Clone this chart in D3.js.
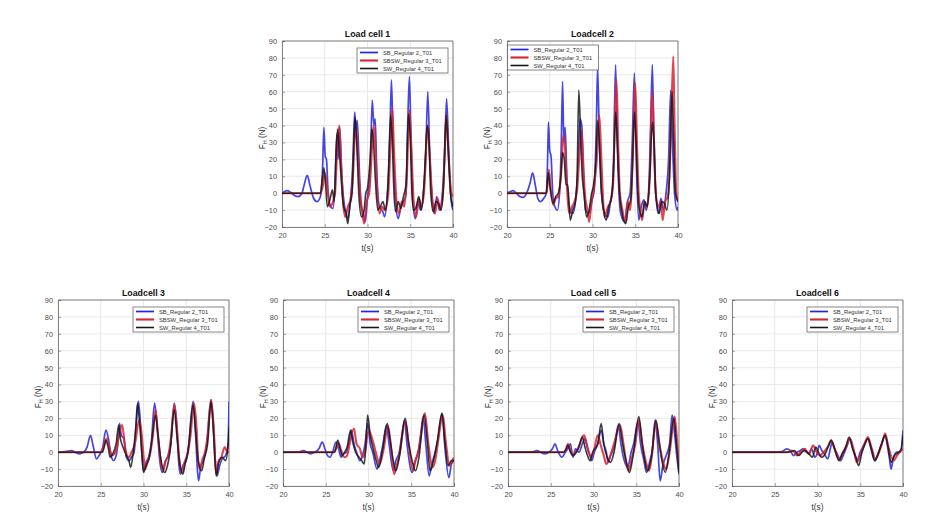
<!DOCTYPE html>
<html><head><meta charset="utf-8">
<script src="https://cdn.jsdelivr.net/npm/d3@7"></script>
<style>body{margin:0;background:#fff;}svg{display:block;font-family:"Liberation Sans",Arial,sans-serif;}</style>
</head><body>
<svg id="c" width="933" height="520"></svg>
<script>
// ---- data ----
const seriesNames = ["SB_Regular 2_T01", "SBSW_Regular 3_T01", "SW_Regular 4_T01"];
const panelTitles = ["Load cell 1", "Loadcell 2", "Loadcell 3", "Loadcell 4", "Load cell 5", "Loadcell 6"];
const xTicks = [20, 25, 30, 35, 40];
const yTicks = [-20, -10, 0, 10, 20, 30, 40, 50, 60, 70, 80, 90];

const lc1_SB = [[20,0],[20.3,1],[20.6,1.5],[21,0.5],[21.5,-1.5],[21.9,-2],[22.3,-0.5],[22.6,5],[22.95,10.5],[23.3,4],[23.7,-3],[24.1,-5],[24.5,-2],[24.75,15],[24.9,39],[25.05,22],[25.2,20],[25.4,0],[25.7,-8],[25.95,-9],[26.2,5],[26.4,35],[26.55,20],[26.75,39],[26.95,15],[27.2,-3],[27.5,-12],[27.7,-15],[28,-5],[28.3,20],[28.5,48],[28.65,38],[28.8,43],[29,20],[29.2,-5],[29.5,-12],[29.75,-17],[30.0,-2],[30.3,10],[30.55,55],[30.75,40],[30.9,44],[31.1,10],[31.4,-8],[31.8,-11],[32.0,-14],[32.3,-2],[32.6,30],[32.8,67],[33.0,30],[33.3,-6],[33.6,-15],[33.9,-8],[34.2,-5],[34.5,-1],[34.7,40],[34.9,69],[35.1,30],[35.3,-5],[35.6,-15],[35.9,-5],[36.2,-10],[36.5,-2],[36.8,20],[37.05,60],[37.3,20],[37.6,-5],[37.8,-12],[38.1,-2],[38.4,-10],[38.7,-3],[39.0,20],[39.25,56],[39.5,25],[39.8,-5],[40,-10]];
const lc1_SBSW = [[20,0],[24.5,0],[24.8,5],[25.0,12],[25.3,3],[25.6,-8],[25.9,-6],[26.2,0],[26.5,30],[26.7,40],[26.9,20],[27.1,-2],[27.4,-14],[27.7,-8],[28.0,-4],[28.3,10],[28.6,40],[28.8,30],[29.0,10],[29.3,-8],[29.6,-18],[29.9,-5],[30.2,0],[30.5,25],[30.7,40],[30.9,30],[31.1,5],[31.4,-12],[31.7,-8],[32.0,-10],[32.4,-2],[32.7,30],[32.9,50],[33.1,25],[33.4,-5],[33.7,-12],[34.0,-5],[34.3,-8],[34.6,10],[34.9,49],[35.1,30],[35.4,-5],[35.7,-14],[36.0,-3],[36.3,-8],[36.6,0],[36.8,20],[37.0,40],[37.3,20],[37.6,-5],[37.9,-12],[38.2,-3],[38.5,-10],[38.8,-2],[39.0,20],[39.2,46],[39.5,20],[39.8,0],[40,-2]];
const lc1_SW = [[20,0],[24.5,0],[24.7,8],[24.9,15],[25.1,5],[25.3,-8],[25.6,-4],[25.9,2],[26.1,-5],[26.3,20],[26.5,38],[26.7,25],[26.9,10],[27.2,-8],[27.5,-12],[27.7,-18],[27.9,-8],[28.2,0],[28.4,30],[28.55,45],[28.75,28],[29.0,-2],[29.3,-14],[29.6,-10],[29.8,0],[30.0,3],[30.3,20],[30.5,38],[30.7,30],[30.9,10],[31.2,-10],[31.5,-8],[31.8,-5],[32.1,-10],[32.4,5],[32.7,46],[32.9,30],[33.1,0],[33.3,-11],[33.6,-5],[33.9,-9],[34.2,-2],[34.5,5],[34.8,47],[35.0,32],[35.2,0],[35.4,-10],[35.7,-8],[36.0,-2],[36.3,-10],[36.6,5],[36.8,25],[37.0,40],[37.2,30],[37.4,0],[37.7,-11],[38.0,-5],[38.3,-6],[38.6,-10],[38.9,5],[39.2,46],[39.4,30],[39.7,0],[40,-8]];

const lc2_SB = [[20,0],[20.4,1],[20.7,1.5],[21.1,0],[21.5,-2],[21.9,-2.5],[22.3,0],[22.7,6],[23.0,12],[23.3,5],[23.6,-3],[23.9,-5],[24.3,-3],[24.6,0],[24.75,20],[24.85,42],[25.0,25],[25.15,22],[25.35,0],[25.6,-8],[25.9,-10],[26.2,5],[26.35,30],[26.5,66],[26.65,30],[26.8,39],[27.0,10],[27.3,-8],[27.7,-12],[28.0,-5],[28.3,15],[28.55,44],[28.75,40],[28.95,10],[29.2,-10],[29.6,-12],[29.9,-5],[30.2,2],[30.45,40],[30.6,75],[30.8,30],[31.0,5],[31.3,-10],[31.8,-14],[32.1,-5],[32.4,5],[32.7,76],[32.9,30],[33.1,0],[33.3,-12],[33.8,-17],[34.1,-5],[34.4,0],[34.65,30],[34.9,71],[35.1,25],[35.4,-16],[35.7,-8],[36.0,-4],[36.3,-10],[36.6,5],[36.8,40],[37.0,76],[37.2,25],[37.4,0],[37.7,-12],[38.0,-3],[38.3,-10],[38.6,0],[38.9,20],[39.15,61],[39.35,30],[39.6,0],[39.9,-10],[40,-8]];
const lc2_SBSW = [[20,0],[24.6,0],[24.75,5],[24.9,14],[25.1,3],[25.4,-7],[25.7,-3],[26.0,-2],[26.3,10],[26.6,35],[26.8,25],[27.0,5],[27.3,-12],[27.6,-8],[27.9,-5],[28.2,2],[28.5,25],[28.7,37],[28.9,20],[29.1,0],[29.4,-10],[29.6,-17],[29.9,-5],[30.2,4],[30.5,20],[30.8,46],[31.0,25],[31.2,0],[31.4,-14],[31.8,-8],[32.1,-5],[32.4,5],[32.6,40],[32.8,67],[33.0,30],[33.2,0],[33.5,-10],[33.8,-17],[34.1,-5],[34.4,-10],[34.7,20],[35.0,65],[35.2,30],[35.4,0],[35.6,-10],[35.8,-16],[36.1,-5],[36.4,-8],[36.7,10],[37.0,60],[37.2,30],[37.4,0],[37.7,-8],[38.0,-5],[38.2,-16],[38.5,-5],[38.8,-2],[39.0,10],[39.2,40],[39.45,81],[39.6,40],[39.8,0],[40,-5]];
const lc2_SW = [[20,0],[24.6,0],[24.7,6],[24.85,12],[25.0,5],[25.4,-6],[25.7,-2],[26.0,0],[26.3,10],[26.5,24],[26.7,20],[26.9,5],[27.1,5],[27.4,-16],[27.7,-10],[28.0,-5],[28.2,10],[28.4,61],[28.6,35],[28.8,10],[29.0,0],[29.3,-14],[29.6,-10],[29.9,0],[30.1,4],[30.4,20],[30.6,43],[30.8,30],[31.0,5],[31.3,-10],[31.6,-16],[31.9,-8],[32.2,-3],[32.5,20],[32.7,48],[32.9,30],[33.1,5],[33.4,-10],[33.9,-18],[34.2,-8],[34.5,-3],[34.7,20],[34.9,48],[35.1,30],[35.3,0],[35.5,-10],[35.8,-14],[36.1,-5],[36.4,-8],[36.7,10],[37.0,42],[37.2,30],[37.4,0],[37.8,-12],[38.1,-5],[38.4,-6],[38.7,-10],[39.0,10],[39.3,60],[39.5,30],[39.7,0],[40,-5]];

const lc3_SB = [[20,0],[21.0,0.5],[21.6,1],[22.0,0],[22.5,-1],[23.0,0],[23.4,3],[23.8,10],[24.1,4],[24.5,-4],[24.8,-2],[25.2,2],[25.6,13],[25.9,8],[26.2,-2],[26.5,-5],[26.8,-2],[27.0,5],[27.2,17],[27.4,10],[27.7,8],[28.0,-3],[28.3,-5],[28.6,-3],[28.9,0],[29.2,20],[29.4,30],[29.6,20],[29.8,0],[30.0,-11],[30.3,-6],[30.6,-3],[30.9,5],[31.3,29],[31.6,15],[31.9,-5],[32.2,-12],[32.5,-6],[32.8,-3],[33.2,5],[33.6,29],[33.9,15],[34.1,-5],[34.3,-13],[34.6,-8],[35.0,-5],[35.3,5],[35.8,30],[36.1,10],[36.3,-10],[36.45,-17],[36.7,-8],[37.0,-5],[37.4,5],[37.9,31],[38.2,15],[38.4,-5],[38.6,-14],[38.9,-8],[39.2,-4],[39.6,-2],[39.9,5],[40,30]];
const lc3_SBSW = [[20,0],[25.0,0],[25.3,3],[25.7,8],[26.0,3],[26.3,-2],[26.6,-1],[26.9,3],[27.2,12],[27.5,16],[27.8,5],[28.0,-1],[28.3,-3],[28.6,0],[29.0,5],[29.5,19],[29.8,10],[30.0,-2],[30.2,-10],[30.5,-5],[30.8,0],[31.1,10],[31.4,25],[31.7,10],[32.0,-5],[32.3,-11],[32.6,-5],[32.9,-2],[33.2,8],[33.6,28],[33.9,15],[34.2,-5],[34.5,-12],[34.8,-6],[35.1,-2],[35.5,10],[35.9,29],[36.2,15],[36.4,-5],[36.6,-10],[36.9,-4],[37.2,0],[37.5,10],[37.9,31],[38.2,15],[38.5,-13],[38.8,-5],[39.1,-3],[39.5,3],[39.8,0],[40,0]];
const lc3_SW = [[20,0],[25.2,0],[25.4,3],[25.6,7],[25.9,2],[26.1,-3],[26.4,-1],[26.8,5],[27.1,16],[27.3,8],[27.6,3],[28.0,-2],[28.3,-5],[28.5,-9],[28.8,0],[29.1,15],[29.3,29],[29.5,20],[29.8,0],[30.0,-12],[30.3,-8],[30.7,-3],[31.0,8],[31.4,22],[31.7,10],[32.0,-3],[32.5,-12],[32.8,-8],[33.1,0],[33.6,25],[33.9,10],[34.2,-5],[34.6,-13],[34.9,-6],[35.2,0],[35.8,28],[36.1,12],[36.4,-5],[36.8,-11],[37.1,-4],[37.5,5],[37.9,30],[38.2,10],[38.5,-14],[38.8,-6],[39.2,-3],[39.6,-5],[39.9,5],[40,15]];

const lc4_SB = [[20,0],[21.8,0],[22.4,1],[22.8,0],[23.2,-1],[23.7,0],[24.2,2],[24.6,6],[24.9,2],[25.2,-2],[25.5,-3],[25.8,0],[26.2,6],[26.5,2],[26.8,-3],[27.1,-1],[27.4,0],[27.7,5],[28.0,13],[28.3,5],[28.6,0],[29.0,-5],[29.3,-2],[29.6,5],[29.9,17],[30.2,5],[30.5,0],[31.0,-10],[31.3,-5],[31.7,5],[32.1,16],[32.4,5],[32.9,-11],[33.2,-5],[33.6,0],[33.9,10],[34.2,19],[34.5,5],[35.1,-12],[35.4,-6],[35.8,0],[36.1,10],[36.4,21],[36.7,5],[37.1,-14],[37.4,-7],[37.8,0],[38.2,10],[38.6,23],[38.9,5],[39.4,-15],[39.7,-7],[40,-5]];
const lc4_SBSW = [[20,0],[26.0,0],[26.3,3],[26.5,5],[26.8,1],[27.2,-3],[27.5,-2],[27.8,5],[28.3,14],[28.6,5],[29.0,2],[29.3,-3],[29.6,0],[30.0,13],[30.3,10],[30.6,5],[31.0,-3],[31.3,-7],[31.7,0],[32.3,15],[32.6,5],[33.0,-13],[33.3,-8],[33.6,-2],[34.3,18],[34.7,5],[35.2,-11],[35.5,-5],[35.9,2],[36.6,23],[37.0,5],[37.5,-9],[37.8,-5],[38.1,5],[38.7,22],[39.0,8],[39.5,-8],[39.8,-5],[40,-3]];
const lc4_SW = [[20,0],[26.0,0],[26.2,3],[26.4,7],[26.7,2],[26.9,-2],[27.2,0],[27.5,3],[27.9,13],[28.2,5],[28.5,0],[28.9,-3],[29.2,-5],[29.5,-7],[29.7,5],[29.9,22],[30.2,10],[30.5,3],[30.9,-5],[31.2,-9],[31.6,0],[32.2,17],[32.5,8],[32.9,-5],[33.2,-11],[33.6,-3],[34.3,20],[34.7,5],[35.1,-5],[35.5,-11],[35.9,-3],[36.5,22],[36.9,5],[37.2,-11],[37.6,-5],[38.0,5],[38.6,23],[38.9,8],[39.3,-8],[39.7,-5],[40,-5]];

const lc5_SB = [[20,0],[22.8,0],[23.4,1],[23.8,0],[24.3,-1],[24.8,0],[25.2,2],[25.5,5],[25.8,1],[26.3,-3],[26.7,0],[27.0,2],[27.3,5],[27.6,-3],[27.9,2],[28.3,0],[28.7,5],[29.0,8],[29.3,2],[29.6,-2],[29.8,-5],[30.1,0],[30.5,5],[30.9,13],[31.2,5],[31.5,0],[31.7,-6],[32.0,-2],[32.5,5],[32.9,16],[33.2,5],[33.6,-5],[34.0,-9],[34.4,0],[34.7,5],[35.2,18],[35.5,5],[35.9,-5],[36.2,-12],[36.6,-5],[36.9,2],[37.2,19],[37.5,5],[37.8,-17],[38.1,-8],[38.5,-2],[38.9,5],[39.2,22],[39.5,10],[39.8,-5],[40,-13]];
const lc5_SBSW = [[20,0],[26.5,0],[26.8,2],[27.0,5],[27.3,1],[27.6,-2],[27.9,0],[28.3,3],[28.6,8],[28.9,10],[29.2,5],[29.7,-3],[30.0,0],[30.5,10],[30.8,5],[31.2,-2],[31.5,-7],[31.9,-3],[32.4,5],[33.1,16],[33.5,5],[33.8,-5],[34.1,-11],[34.5,-3],[34.9,5],[35.3,19],[35.7,5],[36.1,-5],[36.5,-11],[36.8,-3],[37.3,18],[37.7,5],[38.1,-5],[38.5,-10],[38.9,0],[39.5,21],[39.8,5],[40,-8]];
const lc5_SW = [[20,0],[26.5,0],[26.8,2],[27.0,4],[27.3,0],[27.6,-2],[28.0,0],[28.4,5],[28.7,9],[29.0,3],[29.3,-2],[29.6,-5],[29.9,0],[30.5,5],[30.9,17],[31.2,5],[31.6,-3],[32.0,-6],[32.4,0],[33.0,17],[33.4,5],[33.8,-5],[34.2,-12],[34.6,-3],[35.3,21],[35.7,5],[36.0,-5],[36.3,-11],[36.8,-2],[37.3,19],[37.7,5],[38.0,-5],[38.4,-12],[38.8,-2],[39.4,20],[39.7,5],[40,-12]];

const lc6_SB = [[20,0],[25.5,0],[25.9,0.5],[26.4,2],[26.8,1],[27.2,-2],[27.6,0],[28.0,1],[28.3,2],[28.7,0],[29.0,-1],[29.3,2],[29.7,-3],[30.0,0],[30.2,4],[30.5,1],[30.8,-1],[31.2,-4],[31.5,2],[31.7,6],[32.0,2],[32.3,-1],[32.7,-5],[33.0,-2],[33.4,3],[33.8,8],[34.1,3],[34.4,-2],[34.6,-5],[35.0,0],[35.4,4],[35.9,8],[36.2,3],[36.7,-5],[37.0,-2],[37.5,5],[37.9,10],[38.2,3],[38.45,-5],[38.6,-10],[38.9,-3],[39.3,0],[39.7,0],[40,13]];
const lc6_SBSW = [[20,0],[26.5,0],[27.0,1],[27.3,0],[27.6,-2],[28.0,0],[28.5,2],[28.8,0],[29.0,-1],[29.5,4],[29.8,1],[30.3,-2],[30.7,0],[31.2,3],[31.6,7],[32.0,2],[32.5,-4],[32.9,-1],[33.4,4],[33.8,8],[34.2,2],[34.6,-6],[35.0,-2],[35.5,5],[35.9,9],[36.3,3],[36.8,-4],[37.2,0],[37.6,6],[37.9,11],[38.3,3],[38.9,-5],[39.3,-2],[39.8,1],[40,2]];
const lc6_SW = [[20,0],[26.5,0],[27.0,0.5],[27.3,1],[27.8,-2],[28.2,0],[28.5,1],[29.0,-1],[29.4,-3],[29.8,3],[30.1,0],[30.5,-3],[31.0,0],[31.3,4],[31.6,7],[32.0,2],[32.5,-5],[32.9,-1],[33.3,3],[33.7,9],[34.1,2],[34.5,-3],[34.8,-8],[35.2,0],[35.5,4],[35.9,8],[36.3,2],[36.7,-5],[37.1,-1],[37.5,5],[37.9,10],[38.3,2],[38.6,-6],[39.0,-2],[39.5,0],[39.8,2],[40,10]];

const panelData = [
  [lc1_SB, lc1_SBSW, lc1_SW],
  [lc2_SB, lc2_SBSW, lc2_SW],
  [lc3_SB, lc3_SBSW, lc3_SW],
  [lc4_SB, lc4_SBSW, lc4_SW],
  [lc5_SB, lc5_SBSW, lc5_SW],
  [lc6_SB, lc6_SBSW, lc6_SW]
];

// ---- layout / style ----
const colors = ["#2424e0", "#dc2430", "#181818"];
const widths = [1.7, 2.1, 1.6];
const PW = 171, PH = 186;
const layout = [
  {x: 282, y: 41, legend: "right"},
  {x: 507, y: 41, legend: "left"},
  {x: 58,  y: 300, legend: "right"},
  {x: 283, y: 300, legend: "right"},
  {x: 508, y: 300, legend: "right"},
  {x: 732, y: 300, legend: "right"}
];

const svg = d3.select("#c");
const tickColor = "#4d4d4d";

layout.forEach((L, i) => {
  const g = svg.append("g").attr("transform", `translate(${L.x},${L.y})`);
  const x = d3.scaleLinear().domain([20, 40]).range([0, PW]);
  const y = d3.scaleLinear().domain([-20, 90]).range([PH, 0]);

  // grid
  g.append("g").selectAll("line").data(xTicks).join("line")
    .attr("x1", d => x(d)).attr("x2", d => x(d)).attr("y1", 0).attr("y2", PH)
    .attr("stroke", "#e3e3e3").attr("stroke-width", 0.8);
  g.append("g").selectAll("line").data(yTicks).join("line")
    .attr("y1", d => y(d)).attr("y2", d => y(d)).attr("x1", 0).attr("x2", PW)
    .attr("stroke", "#e3e3e3").attr("stroke-width", 0.8);

  // axes
  const xAxis = d3.axisBottom(x).tickValues(xTicks).tickSize(-3).tickPadding(6);
  const yAxis = d3.axisLeft(y).tickValues(yTicks).tickSize(-3).tickPadding(5);
  const gx = g.append("g").attr("transform", `translate(0,${PH})`).call(xAxis);
  const gy = g.append("g").call(yAxis);
  [gx, gy].forEach(a => {
    a.select(".domain").attr("stroke", "#666").attr("stroke-width", 0.8);
    a.selectAll(".tick line").attr("stroke", "#666").attr("stroke-width", 0.6);
    a.selectAll(".tick text").attr("fill", tickColor).attr("font-size", 7.4)
      .attr("font-family", '"Liberation Sans",Arial,sans-serif');
  });
  g.append("line").attr("x1", 0).attr("x2", PW).attr("y1", 0).attr("y2", 0).attr("stroke", "#666").attr("stroke-width", 0.8);
  g.append("line").attr("x1", PW).attr("x2", PW).attr("y1", 0).attr("y2", PH).attr("stroke", "#666").attr("stroke-width", 0.8);

  // lines
  const clipId = "clip" + i;
  g.append("clipPath").attr("id", clipId).append("rect").attr("width", PW).attr("height", PH);
  const line = d3.line().x(d => x(d[0])).y(d => y(d[1])).curve(d3.curveMonotoneX);
  const lg = g.append("g").attr("clip-path", `url(#${clipId})`);
  panelData[i].forEach((s, k) => {
    lg.append("path").datum(s).attr("d", line).attr("fill", "none")
      .attr("stroke", colors[k]).attr("stroke-width", widths[k])
      .attr("stroke-opacity", 0.85).attr("stroke-linejoin", "round");
  });

  // title
  g.append("text").attr("x", PW / 2).attr("y", -4).attr("text-anchor", "middle")
    .attr("font-size", 8.8).attr("font-weight", "bold").attr("fill", "#111").text(panelTitles[i]);
  // x label
  g.append("text").attr("x", PW / 2).attr("y", PH + 24).attr("text-anchor", "middle")
    .attr("font-size", 8.2).attr("fill", "#333").text("t(s)");
  // y label
  const yl = g.append("text").attr("transform", `translate(-17,${PH / 2 + 4}) rotate(-90)`)
    .attr("text-anchor", "middle").attr("font-size", 8.2).attr("fill", "#333");
  yl.append("tspan").text("F");
  yl.append("tspan").attr("font-size", 5.5).attr("dy", 2).text("H");
  yl.append("tspan").attr("dy", -2).text(" (N)");

  // legend
  const LW = 91, LH = 25;
  const lx = L.legend === "right" ? PW - LW - 5 : 0.5;
  const ly = L.legend === "right" ? 7 : 4;
  const leg = g.append("g").attr("transform", `translate(${lx},${ly})`);
  leg.append("rect").attr("width", LW).attr("height", LH).attr("fill", "#fff")
    .attr("stroke", "#555").attr("stroke-width", 0.7);
  seriesNames.forEach((n, k) => {
    const cy = 4.5 + k * 8;
    leg.append("line").attr("x1", 3).attr("x2", 21).attr("y1", cy).attr("y2", cy)
      .attr("stroke", colors[k]).attr("stroke-width", widths[k]);
    leg.append("text").attr("x", 26).attr("y", cy + 2).attr("font-size", 5.8)
      .attr("fill", "#333").text(n);
  });
});
</script>
</body></html>
